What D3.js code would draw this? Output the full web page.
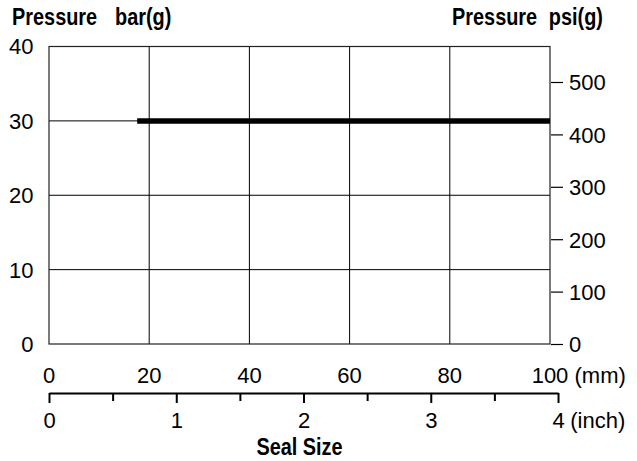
<!DOCTYPE html>
<html>
<head>
<meta charset="utf-8">
<script src="https://cdn.jsdelivr.net/npm/d3@7"></script>
<style>
  body { margin: 0; background: #fff; }
  svg text { font-family: "Liberation Sans", Arial, sans-serif; fill: #000; }
  .lbl { font-size: 22px; }
  .ttl { font-size: 23px; font-weight: bold; }
</style>
</head>
<body>
<div id="chart"></div>
<script>
// chart values
var mmTicks = [0, 20, 40, 60, 80, 100];
var inchTicks = [0, 1, 2, 3, 4];
var inchMinor = [0.5, 1.5, 2.5, 3.5];
var barTicks = [0, 10, 20, 30, 40];
var psiTicks = [0, 100, 200, 300, 400, 500];
var gridMm = [20, 40, 60, 80];
var gridBar = [10, 20, 30];
var ratingMm = [17.6, 100];
var ratingBar = [30, 30];

var svgWidth = 637;
var svgHeight = 461;

var svg = d3.select("#chart")
  .append("svg")
  .attr("width", svgWidth)
  .attr("height", svgHeight);

// scales
var x = d3.scaleLinear().domain([0, 100]).range([49, 550]);
var y = d3.scaleLinear().domain([0, 40]).range([344, 46.5]);
var yPsi = d3.scaleLinear().domain([0, 500]).range([344, 82]);
var xInch = d3.scaleLinear().domain([0, 4]).range([x(0), x(4 * 25.4)]);

// bold condensed-looking text
function title(px, py, anchor, str) {
  svg.append("text")
    .attr("class", "ttl")
    .attr("transform", `translate(${px}, ${py}) scale(0.865, 1)`)
    .attr("text-anchor", anchor)
    .text(str);
}

// grid
svg.append("g").selectAll("line")
  .data(gridMm)
  .enter()
  .append("line")
  .attr("x1", d => x(d)).attr("x2", d => x(d))
  .attr("y1", y(40)).attr("y2", y(0))
  .attr("stroke", "#000").attr("stroke-width", 1);

svg.append("g").selectAll("line")
  .data(gridBar)
  .enter()
  .append("line")
  .attr("x1", x(0)).attr("x2", x(100))
  .attr("y1", d => y(d)).attr("y2", d => y(d))
  .attr("stroke", "#000").attr("stroke-width", 1);

// frame
svg.append("rect")
  .attr("x", x(0)).attr("y", y(40))
  .attr("width", x(100) - x(0)).attr("height", y(0) - y(40))
  .attr("fill", "none").attr("stroke", "#222").attr("stroke-width", 1.2);

// pressure rating line
var line = d3.line()
  .x(d => x(d[0]))
  .y(d => y(d[1]));

svg.append("path")
  .datum(d3.zip(ratingMm, ratingBar))
  .attr("d", line)
  .attr("fill", "none")
  .attr("stroke", "#000")
  .attr("stroke-width", 5.5);

// left bar labels
svg.append("g").selectAll("text")
  .data(barTicks)
  .enter()
  .append("text")
  .attr("class", "lbl")
  .attr("x", 33.5)
  .attr("y", d => y(d))
  .attr("dy", "0.36em")
  .attr("text-anchor", "end")
  .text(d => d);

// right psi axis
var rightAxis = d3.axisRight(yPsi)
  .tickValues(psiTicks)
  .tickSize(12)
  .tickPadding(6);

var gRight = svg.append("g")
  .attr("transform", `translate(${x(100) + 1}, 0)`)
  .call(rightAxis);
gRight.select(".domain").remove();
gRight.selectAll("line").attr("stroke", "#000").attr("stroke-width", 1.2);
gRight.selectAll("text").attr("class", "lbl").attr("dy", "0.36em");
gRight.attr("font-size", null).attr("font-family", null);

// mm labels
svg.append("g").selectAll("text")
  .data(mmTicks)
  .enter()
  .append("text")
  .attr("class", "lbl")
  .attr("x", d => x(d))
  .attr("y", 383)
  .attr("text-anchor", "middle")
  .text(d => d);

svg.append("text")
  .attr("class", "lbl")
  .attr("x", x(100) + 24.5)
  .attr("y", 383)
  .text("(mm)");

// inch axis
var inchAxis = d3.axisBottom(xInch)
  .tickValues(inchTicks)
  .tickSizeInner(10)
  .tickSizeOuter(0)
  .tickPadding(9)
  .tickFormat(d3.format("d"));

var gInch = svg.append("g")
  .attr("transform", "translate(0, 393)")
  .call(inchAxis);
gInch.select(".domain").attr("stroke", "#000").attr("stroke-width", 2);
gInch.selectAll("line").attr("stroke", "#000").attr("stroke-width", 2);
gInch.selectAll("text").attr("class", "lbl");
gInch.attr("font-size", null).attr("font-family", null);

var minorAxis = d3.axisBottom(xInch)
  .tickValues(inchMinor)
  .tickSizeInner(8)
  .tickSizeOuter(0)
  .tickFormat("");

var gMinor = svg.append("g")
  .attr("transform", "translate(0, 393)")
  .call(minorAxis);
gMinor.select(".domain").remove();
gMinor.selectAll("line").attr("stroke", "#000").attr("stroke-width", 2);

svg.append("text")
  .attr("class", "lbl")
  .attr("x", xInch(4) + 12.2)
  .attr("y", 428)
  .text("(inch)");

// titles
title(12, 25, "start", "Pressure");
title(115, 25, "start", "bar(g)");
title(452, 25, "start", "Pressure");
title(603, 25, "end", "psi(g)");
title(x(50), 455, "middle", "Seal Size");
</script>
</body>
</html>
